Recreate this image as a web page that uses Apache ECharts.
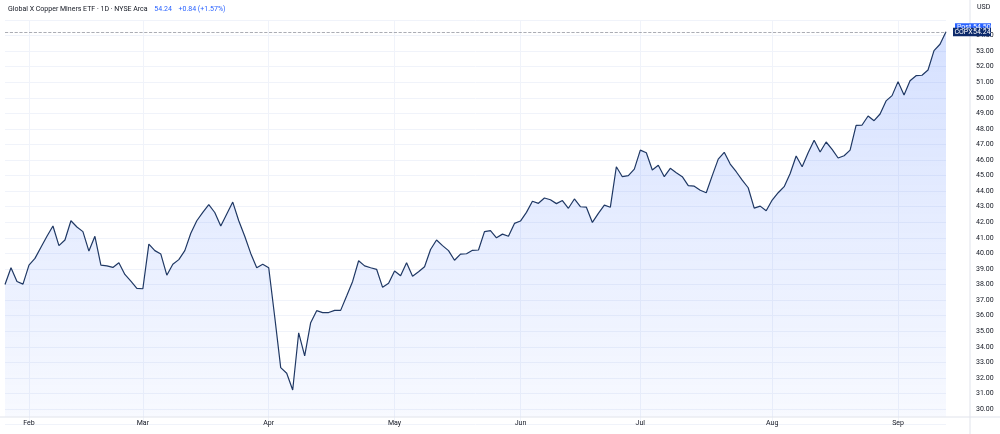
<!DOCTYPE html>
<html>
<head>
<meta charset="utf-8">
<script src="https://cdn.jsdelivr.net/npm/echarts@6/dist/echarts.min.js"></script>
<style>html,body{margin:0;padding:0;background:#fff}#main{width:1000px;height:434px}</style>
</head>
<body>
<div id="main"></div>
<script>
// COPX daily closes, 2025-01-28 .. 2025-09-12
var closes = [
    38.0, 39.08, 38.2, 38.03, 39.25, 39.68, 40.4, 41.1, 41.76, 40.5,
    40.86, 42.1, 41.7, 41.4, 40.15, 41.1, 39.25, 39.2, 39.1, 39.4,
    38.65, 38.22, 37.75, 37.73, 40.6, 40.18, 39.96, 38.6, 39.3, 39.6,
    40.18, 41.3, 42.1, 42.64, 43.13, 42.63, 41.76, 42.53, 43.3, 42.1,
    41.1, 40.0, 39.08, 39.3, 39.08, 35.93, 32.66, 32.3, 31.22, 34.9,
    33.42, 35.55, 36.32, 36.2, 36.2, 36.34, 36.34, 37.26, 38.2, 39.53,
    39.2, 39.08, 38.98, 37.82, 38.08, 38.87, 38.57, 39.4, 38.54, 38.82,
    39.14, 40.25, 40.86, 40.5, 40.18, 39.56, 39.96, 39.98, 40.2, 40.22,
    41.4, 41.46, 41.0, 41.24, 41.1, 41.93, 42.08, 42.64, 43.35, 43.22,
    43.56, 43.45, 43.2, 43.4, 42.9, 43.5, 43.0, 42.97, 41.99, 42.57,
    43.1, 42.97, 45.57, 44.93, 45.0, 45.42, 46.64, 46.47, 45.36, 45.66,
    44.93, 45.47, 45.19, 44.93, 44.36, 44.32, 44.06, 43.9, 45.0, 46.06,
    46.5, 45.74, 45.25, 44.71, 44.22, 42.91, 43.04, 42.74, 43.43, 43.9,
    44.29, 45.14, 46.26, 45.57, 46.47, 47.27, 46.52, 47.16, 46.69, 46.13,
    46.28, 46.64, 48.23, 48.25, 48.83, 48.53, 48.96, 49.8, 50.14, 51.04,
    50.18, 51.1, 51.42, 51.45, 51.79, 53.03, 53.44, 54.24
];
var monthNames = ['Jan', 'Feb', 'Mar', 'Apr', 'May', 'Jun', 'Jul', 'Aug', 'Sep', 'Oct'];
var holidays = ['2025-02-17', '2025-04-18', '2025-05-26', '2025-06-19', '2025-07-04', '2025-09-01'];
var lastPrice = 54.24;
var postPrice = 54.50;

// trading day calendar
var dates = [];
var d = new Date(Date.UTC(2025, 0, 28));
while (dates.length < closes.length) {
    var s = d.toISOString().slice(0, 10);
    var wd = d.getUTCDay();
    if (wd !== 0 && wd !== 6 && holidays.indexOf(s) < 0) dates.push(s);
    d.setUTCDate(d.getUTCDate() + 1);
}
function isMonthStart(i) {
    return i > 0 && dates[i].slice(5, 7) !== dates[i - 1].slice(5, 7);
}

var myChart = echarts.init(document.getElementById('main'));
myChart.setOption({
    animation: false,
    grid: {left: 5, right: 54, top: 20, bottom: 9.4},
    xAxis: {
        type: 'category',
        data: dates,
        boundaryGap: false,
        axisLine: {show: false},
        axisTick: {show: false},
        axisLabel: {
            interval: function (i) { return isMonthStart(i); },
            formatter: function (v) { return monthNames[parseInt(v.slice(5, 7), 10) - 1]; },
            margin: -5,
            verticalAlign: 'top',
            fontSize: 7,
            color: '#131722',
            fontFamily: 'Roboto'
        },
        splitLine: {
            show: true,
            interval: function (i) { return isMonthStart(i); },
            lineStyle: {color: '#f0f3fa'}
        }
    },
    yAxis: {
        type: 'value',
        position: 'right',
        min: 29,
        max: 55,
        interval: 1,
        axisLine: {show: false},
        axisTick: {show: false},
        axisLabel: {
            margin: 30,
            fontSize: 7,
            color: '#131722',
            fontFamily: 'Roboto',
            formatter: function (v) { return v >= 30 && v < 55 ? v.toFixed(2) : ''; }
        },
        splitLine: {lineStyle: {color: '#f0f3fa'}}
    },
    series: [{
        type: 'line',
        data: closes,
        symbol: 'none',
        lineStyle: {color: '#1f3864', width: 1.2},
        areaStyle: {
            origin: 29.5,
            color: new echarts.graphic.LinearGradient(0, 0, 0, 1, [
                {offset: 0, color: 'rgba(41,98,255,0.28)'},
                {offset: 1, color: 'rgba(41,98,255,0.05)'}
            ])
        },
        markLine: {
            symbol: 'none',
            silent: true,
            label: {show: false},
            lineStyle: {color: '#9598a1', type: 'dashed', width: 0.8},
            data: [{yAxis: lastPrice}]
        }
    }]
});

// overlays: title, tags, axis separators
var yLast = myChart.convertToPixel({yAxisIndex: 0}, lastPrice);
var yPost = myChart.convertToPixel({yAxisIndex: 0}, postPrice);
myChart.setOption({
    graphic: [
        {type: 'line', shape: {x1: 0, y1: 417, x2: 1000, y2: 417}, style: {stroke: '#e0e3eb', lineWidth: 1}, z: 6},
        {type: 'line', shape: {x1: 970, y1: 0, x2: 970, y2: 434}, style: {stroke: '#e0e3eb', lineWidth: 1}, z: 6},
        {type: 'text', x: 8, y: 3, z: 7, style: {
            rich: {
                a: {fontSize: 7, fill: '#131722', fontFamily: 'Roboto'},
                b: {fontSize: 7, fill: '#2962ff', fontFamily: 'Roboto'}
            },
            text: '{a|Global X Copper Miners ETF · 1D · NYSE Arca}  {b|54.24}  {b|+0.84 (+1.57%)}'
        }},
        {type: 'text', x: 977, y: 4, z: 7, style: {text: 'USD', fontSize: 7, fill: '#131722', fontFamily: 'Roboto'}},
        {type: 'rect', z: 8, shape: {x: 955, y: yPost - 4.5, width: 36, height: 8.5}, style: {fill: '#2962ff'}},
        {type: 'text', z: 9, x: 957, y: yPost - 4, style: {text: 'Post', fontSize: 7, fill: '#fff', fontFamily: 'Roboto'}},
        {type: 'text', z: 9, x: 973, y: yPost - 4, style: {text: postPrice.toFixed(2), fontSize: 7, fill: '#fff', fontFamily: 'Roboto'}},
        {type: 'rect', z: 8, shape: {x: 953, y: yLast - 4, width: 38, height: 8.5}, style: {fill: '#0d2a6b'}},
        {type: 'text', z: 9, x: 954.5, y: yLast - 3.5, style: {text: 'COPX', fontSize: 7, fill: '#fff', fontFamily: 'Roboto'}},
        {type: 'text', z: 9, x: 973, y: yLast - 3.5, style: {text: lastPrice.toFixed(2), fontSize: 7, fill: '#fff', fontFamily: 'Roboto'}}
    ]
});
</script>
</body>
</html>
